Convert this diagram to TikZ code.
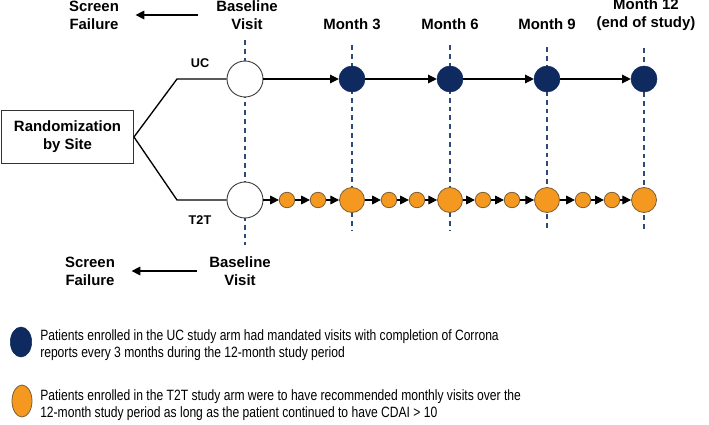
\documentclass[tikz,border=0pt]{standalone}
\usepackage{fontspec}
\setmainfont{Liberation Sans}
\newfontfamily\keyfont[FakeStretch=0.81]{Liberation Sans}
\usetikzlibrary{arrows.meta,shapes.geometric}
\definecolor{navy}{HTML}{0E2A5E}
\definecolor{amber}{HTML}{F4981F}
\definecolor{amberrim}{HTML}{7A5E38}
\definecolor{dashblue}{HTML}{2E4A7A}
\tikzset{label text/.style={font=\fontsize{11.2}{13.5}\selectfont\bfseries, align=center}}
\tikzset{visit line/.style={dashblue, line width=1.1pt, dash pattern=on 3.6pt off 3pt}}
\tikzset{key text/.style={anchor=west, align=left, font=\keyfont\fontsize{11.2}{12.6}\selectfont, inner sep=0pt}}

\begin{document}
\begin{tikzpicture}[
		x=0.75pt, y=-0.75pt,
		uc visit/.style={circle, fill=navy, draw=navy, minimum size=19.5pt, inner sep=0pt},
		t2t visit/.style={circle, fill=amber, draw=amberrim, line width=0.6pt, minimum size=#1, inner sep=0pt},
		t2t visit/.default=18.75pt,
		baseline visit/.style={circle, fill=white, draw=black!75, line width=0.7pt, minimum size=27pt, inner sep=0pt},
		step arrow/.style={-{Triangle[length=6.5pt, width=6.5pt]}, line width=0.8pt}
		]    % one pixel of the figure is 0.75pt
		\useasboundingbox (0,0) rectangle (709,424);

		% dashed visit lines
		\draw[visit line] (245,40) -- (245,245);
		\foreach \xx/\yy in {352/45, 450/45, 547/47, 644/48}
			\draw[visit line] (\xx,\yy) -- (\xx,231);

		% headings
		\node[label text] (sftop) at (94,15) {Screen\\Failure};
		\node[label text] (bvtop) at (247,15) {Baseline\\Visit};
		\node[label text] (m3) at (352,24) {Month 3};
		\node[label text] (m6) at (450,24) {Month 6};
		\node[label text] (m9) at (547,24) {Month 9};
		\node[label text] (m12) at (646,15) {Month 12\\(end of study)};
		\draw[step arrow, shorten <=10pt, shorten >=9pt] (bvtop) -- (sftop);

		% randomization and the two arms
		\node[draw=black!80, line width=0.7pt, label text, minimum width=99pt, minimum height=40pt] (rand) at (67.5,137) {Randomization\\by Site};
		\coordinate (ucfork) at (177,79);
		\coordinate (ttfork) at (177,200);
		\node[baseline visit] (uc0) at (245,79) {};
		\node[baseline visit] (t0) at (245,200) {};
		\draw[line width=1pt] (rand.east) -- (ucfork) -- (uc0);
		\draw[line width=1pt] (rand.east) -- (ttfork) -- (t0);
		\node[label text, font=\fontsize{9.5}{11}\selectfont\bfseries] (uclbl) at (200,63) {UC};
		\node[label text, font=\fontsize{9.5}{11}\selectfont\bfseries] (ttlbl) at (200,220) {T2T};

		% UC arm: every 3 months
		\node[uc visit] (uc3) at (352,79) {};
		\node[uc visit] (uc6) at (450,79) {};
		\node[uc visit] (uc9) at (547,79) {};
		\node[uc visit] (uc12) at (644,79) {};
		\foreach \a/\b in {uc0/uc3, uc3/uc6, uc6/uc9, uc9/uc12}
			\draw[step arrow] (\a) -- (\b);

		% T2T arm: monthly
		\foreach \nm/\xx in {t1/287, t2/318, t4/389, t5/417, t7/483, t8/512, t10/583, t11/612}
			\node[t2t visit=11.6pt] (\nm) at (\xx,200) {};
		\foreach \nm/\xx in {t3/352, t6/450, t9/547, t12/644}
			\node[t2t visit] (\nm) at (\xx,200) {};
		\foreach \a/\b in {t0/t1, t1/t2, t2/t3, t3/t4, t4/t5, t5/t6, t6/t7, t7/t8, t8/t9, t9/t10, t10/t11, t11/t12}
			\draw[step arrow] (\a) -- (\b);

		% screen failure at the bottom
		\node[label text] (sfbot) at (90,271) {Screen\\Failure};
		\node[label text] (bvbot) at (240,271) {Baseline\\Visit};
		\draw[step arrow, shorten <=6pt, shorten >=9pt] (bvbot) -- (sfbot);

		% legend
		\node[ellipse, fill=navy, draw=navy, minimum width=16pt, minimum height=22.5pt, inner sep=0pt] (keyuc) at (21,342) {};
		\node[ellipse, fill=amber, draw=amberrim, line width=0.6pt, minimum width=15pt, minimum height=24pt, inner sep=0pt] (keytt) at (22,401) {};
		\node[key text] (keyuctxt) at (40,345)
			{Patients enrolled in the UC study arm had mandated visits with completion of Corrona\\reports every 3 months during the 12-month study period};
		\node[key text] (keytttxt) at (40,405)
			{Patients enrolled in the T2T study arm were to have recommended monthly visits over the\\12-month study period as long as the patient continued to have CDAI > 10};
	\end{tikzpicture}
\end{document}
